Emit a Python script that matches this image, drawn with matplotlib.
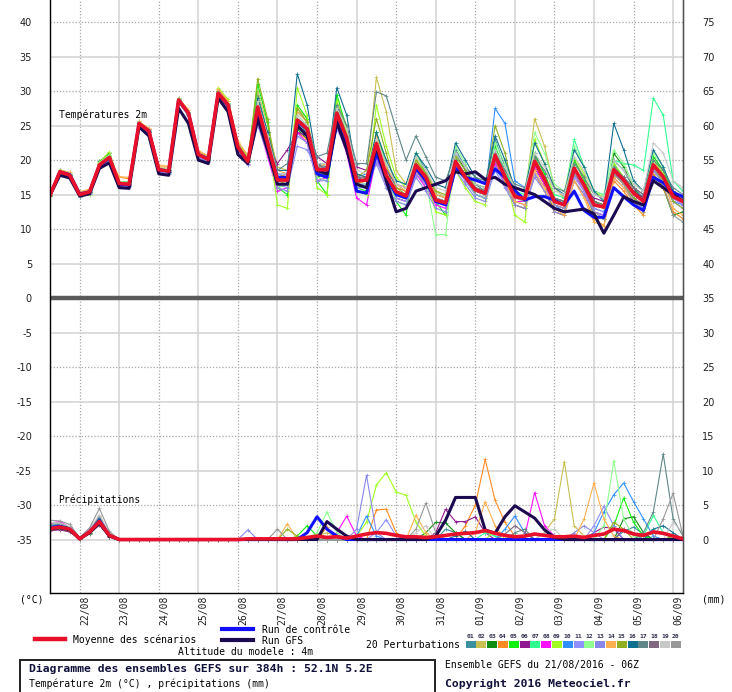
import numpy as np
import matplotlib.pyplot as plt
from matplotlib.lines import Line2D
from matplotlib.patches import Rectangle

plt.rcParams['axes.unicode_minus'] = False

W, H = 732, 692
MONO = 'DejaVu Sans Mono'

# time axis: GEFS 21/08/2016 06Z, every 6 h up to 384 h
hours = np.arange(0, 385, 6)
day_labels = ['22/08', '23/08', '24/08', '25/08', '26/08', '27/08', '28/08', '29/08',
              '30/08', '31/08', '01/09', '02/09', '03/09', '04/09', '05/09', '06/09']
day_hours = [18, 42, 66, 90, 114, 138, 162, 186, 210, 234, 258, 282, 306, 330, 354, 378]

# temperature 2m (degC)
t_mean = [14.9,18.3,17.8,15.0,15.4,19.3,20.4,16.6,16.5, 25.3,24.2,18.6,18.4, 28.7,26.8,20.8,20.1, 29.7,28.0,21.9,19.8, 27.7,22.5,17.1,17.1, 25.8,24.5,18.6,18.6, 26.8,23.2,17.0,17.1, 22.4,17.8,15.4,14.8, 19.3,17.5,14.2,13.8, 19.8,17.5,15.7,15.2, 20.7,17.6,14.7,14.4, 19.8,17.2,14.0,13.5, 18.8,16.4,13.5,13.2, 18.6,17.1,15.2,14.0, 19.3,17.6,14.7,14.0]
t_ctrl = [14.9,18.3,17.9,15.1,15.4,19.2,20.3,16.5,16.4, 25.3,24.2,18.6,18.4, 28.7,26.8,20.8,20.2, 29.6,27.9,21.8,19.8, 26.5,22.0,17.5,17.5, 25.5,24.5,18.0,17.5, 25.5,22.0,15.5,15.2, 21.0,17.5,15.0,14.5, 18.8,17.0,14.0,13.5, 18.8,17.5,17.1,16.6, 18.7,17.5,15.6,14.2, 14.7,14.7,14.2,13.5, 15.5,12.7,11.7,11.7, 16.0,14.7,13.5,12.7, 17.5,16.7,15.3,14.7]
t_gfs = [14.9,17.8,17.4,14.8,15.1,18.8,19.6,16.0,15.9, 24.8,23.5,18.0,17.8, 27.5,25.3,20.0,19.5, 29.0,27.0,20.8,19.5, 26.0,21.5,16.5,16.5, 25.0,23.5,18.5,18.0, 25.5,21.5,16.5,16.0, 22.0,17.0,12.5,13.0, 15.5,16.0,16.5,17.0, 18.3,18.0,18.3,17.2, 17.5,16.5,16.0,15.5, 15.0,14.0,13.0,12.5, 12.7,12.9,12.2,9.4, 12.0,14.7,14.0,13.5, 17.0,16.0,15.0,14.0]

t01 = [14.8,18.5,18.0,15.2,15.5,19.5,20.6,16.8,16.7, 25.5,24.5,18.8,18.6, 28.9,27.0,21.0,20.3, 30.0,28.3,22.2,20.0, 29.5,24.0,18.0,17.5, 27.0,25.5,19.5,19.0, 28.0,24.0,17.5,17.0, 24.0,19.0,16.0,15.5, 21.0,18.5,15.0,14.5, 21.5,19.0,16.5,15.5, 23.0,19.0,15.0,14.0, 21.0,18.0,14.5,14.0, 20.0,17.5,14.0,13.0, 20.0,18.5,16.0,14.5, 20.5,18.5,15.5,14.5]
t02 = [15.0,18.0,17.6,14.8,15.2,19.0,20.0,16.4,16.3, 25.0,24.0,18.4,18.2, 28.5,26.5,20.5,19.8, 29.5,27.8,21.5,19.5, 30.0,25.0,19.0,18.5, 27.5,26.0,19.0,18.0, 28.5,25.0,18.0,17.5, 32.0,27.0,18.5,16.5, 20.0,18.5,15.5,14.5, 20.0,18.0,15.0,14.5, 21.0,18.5,15.5,14.5, 26.0,22.0,16.0,14.5, 20.0,17.5,14.0,13.5, 19.5,17.0,15.0,14.0, 20.0,18.0,15.0,14.5]
t03 = [14.9,18.2,17.9,15.1,15.3,19.8,21.0,16.9,16.8, 25.2,24.0,18.4,18.3, 28.6,26.9,20.6,20.0, 29.6,28.0,22.0,20.2, 26.0,21.0,16.0,16.5, 24.5,23.0,17.5,18.0, 27.5,23.5,16.5,17.5, 20.0,17.0,14.5,14.0, 18.5,17.0,14.0,13.5, 21.0,18.5,16.5,16.0, 19.5,17.0,13.5,13.0, 19.0,16.5,12.5,12.0, 19.0,16.0,12.0,11.5, 21.0,19.0,16.0,14.0, 18.0,16.0,12.0,12.5]
t04 = [14.9,18.4,18.2,15.3,15.6,19.6,20.2,17.5,17.3, 25.4,24.5,19.0,19.0, 28.8,27.2,21.2,20.5, 30.2,28.5,22.5,20.5, 28.0,23.0,17.5,18.0, 24.0,23.0,18.5,19.0, 25.5,22.0,16.5,17.0, 21.0,17.5,16.0,15.5, 18.5,16.5,14.0,13.5, 19.0,17.0,15.5,15.0, 20.0,16.5,13.5,13.0, 18.0,15.5,12.5,12.0, 17.0,15.0,11.5,10.5, 17.0,15.5,13.5,12.0, 18.0,16.0,12.5,11.5]
t05 = [14.8,18.6,18.0,14.7,15.2,19.5,20.8,16.7,16.6, 25.6,24.4,18.7,18.5, 29.0,27.0,20.9,20.2, 30.0,28.2,22.0,20.0, 31.0,25.5,16.0,15.0, 28.0,26.0,17.0,15.0, 29.5,24.5,16.0,15.5, 24.0,19.5,14.0,12.0, 21.0,18.0,14.0,12.0, 19.5,17.0,15.0,14.5, 22.0,18.5,15.0,14.5, 21.0,18.0,14.5,14.0, 20.0,17.0,14.0,13.5, 19.5,17.5,15.5,14.5, 20.5,18.5,15.0,14.0]
t06 = [15.0,18.3,17.7,14.9,15.4,19.2,20.3,16.5,16.4, 25.3,24.1,18.6,18.5, 28.6,26.7,20.9,20.3, 29.8,28.1,22.3,20.5, 26.5,22.0,19.5,21.5, 24.0,23.5,20.5,19.5, 25.0,22.0,19.0,18.5, 21.0,18.5,16.5,16.0, 18.0,16.5,14.5,14.0, 19.0,17.5,16.0,15.5, 20.5,17.5,15.0,14.5, 19.0,16.5,14.0,13.5, 18.0,16.0,14.5,14.0, 18.0,17.0,15.5,14.5, 19.0,17.5,15.5,14.5]
t07 = [14.9,18.2,17.8,15.0,15.4,19.3,20.5,16.6,16.5, 25.2,24.2,18.5,18.4, 28.7,26.8,20.8,20.0, 29.7,27.9,21.8,19.7, 27.0,22.0,16.5,16.5, 25.5,24.0,18.0,18.0, 26.0,22.5,16.5,16.5, 21.5,17.0,15.0,14.5, 19.5,17.5,14.5,14.0, 20.0,18.0,16.0,15.5, 21.5,18.5,15.5,15.0, 20.0,17.5,15.0,14.5, 23.0,19.0,15.5,15.0, 20.0,19.5,19.3,18.5, 29.0,26.5,17.0,15.5]
t08 = [14.9,18.4,17.9,14.9,15.3,19.4,20.3,16.4,16.4, 25.4,24.3,18.5,18.3, 28.8,26.9,20.7,19.9, 29.9,28.1,21.7,19.5, 25.5,20.5,15.5,16.0, 24.0,22.5,17.0,17.5, 25.0,21.0,14.5,13.5, 20.5,16.5,14.5,14.0, 18.0,16.0,13.5,13.0, 19.5,17.0,15.5,15.0, 19.5,16.5,14.0,14.0, 19.0,16.5,13.5,13.0, 18.0,15.5,12.5,12.0, 18.0,16.5,14.5,13.5, 18.5,17.0,14.5,13.5]
t09 = [14.8,18.1,17.6,14.6,15.0,19.6,21.2,16.8,16.7, 25.0,23.9,18.2,18.0, 28.4,26.5,20.5,19.7, 30.5,28.8,22.5,20.5, 29.0,23.5,13.5,13.0, 30.5,26.5,16.0,15.0, 28.5,24.0,15.5,15.0, 28.0,22.0,17.5,16.0, 20.0,17.5,12.5,12.0, 18.5,16.0,14.0,13.5, 20.5,18.0,12.0,11.0, 23.0,19.5,14.5,13.5, 20.5,18.0,15.5,14.5, 19.5,17.5,15.0,14.0, 20.0,18.0,15.0,14.0]
t10 = [14.9,18.3,17.8,15.1,15.5,19.2,20.2,16.7,16.6, 25.3,24.2,18.7,18.5, 28.7,26.8,20.8,20.2, 29.6,27.9,21.9,19.9, 27.0,22.5,18.0,18.0, 25.0,24.0,18.0,18.5, 26.0,23.0,17.5,18.0, 22.0,18.0,15.0,14.5, 19.0,17.0,14.0,13.5, 20.0,17.5,15.5,15.0, 27.5,25.3,17.0,16.0, 20.0,17.5,13.5,12.5, 18.0,16.0,13.0,12.5, 18.5,16.5,14.5,13.0, 19.5,17.0,14.0,13.5]
t11 = [14.9,18.2,17.7,14.8,15.2,19.1,20.1,16.3,16.2, 25.1,24.0,18.3,18.1, 28.5,26.6,20.5,19.8, 29.5,27.7,21.5,19.4, 26.5,21.5,16.5,16.0, 22.0,21.5,18.5,19.0, 24.5,21.5,16.5,16.5, 20.0,16.5,14.5,14.0, 18.0,16.5,14.0,14.0, 19.0,17.0,15.0,14.5, 19.0,16.5,14.0,13.5, 18.0,16.0,13.5,13.0, 17.5,15.5,13.0,12.5, 19.0,17.0,15.0,14.0, 18.5,17.0,14.5,13.5]
t12 = [14.9,18.5,18.1,15.2,15.6,19.7,20.7,16.9,16.8, 25.5,24.4,18.9,18.7, 28.9,27.0,21.0,20.4, 29.9,28.2,22.1,20.1, 28.5,23.0,16.0,16.5, 26.5,25.0,17.5,17.0, 27.0,23.5,16.0,16.5, 23.0,18.0,14.0,13.5, 21.0,17.0,9.2,9.2, 22.0,19.5,16.0,15.0, 22.5,19.5,16.0,15.5, 24.0,21.0,16.5,15.5, 22.0,19.0,15.5,15.0, 21.5,19.5,16.5,15.5, 21.0,19.0,15.5,14.5]
t13 = [15.0,18.0,17.5,14.6,15.1,18.9,19.9,16.2,16.1, 25.0,23.8,18.2,18.0, 28.3,26.4,20.4,19.7, 29.3,27.6,21.4,19.3, 25.0,21.0,16.0,15.5, 23.5,22.5,17.0,17.0, 25.0,22.0,16.0,16.0, 19.5,16.0,14.0,13.5, 17.5,15.5,13.0,12.5, 18.5,16.5,14.5,14.0, 18.5,16.0,13.5,13.0, 17.5,15.5,12.5,12.0, 17.0,15.0,12.5,12.0, 17.5,16.0,14.0,13.0, 18.5,16.5,14.0,13.0]
t14 = [14.9,18.6,18.2,15.4,15.8,19.4,20.3,17.6,17.5, 25.6,24.6,19.3,19.1, 29.0,27.3,21.4,20.6, 30.3,28.6,22.7,20.7, 28.0,24.0,18.5,18.0, 27.0,25.5,19.0,19.5, 26.5,23.5,18.0,17.5, 23.5,19.0,16.5,15.5, 20.0,18.0,15.0,14.5, 19.5,17.5,15.5,15.0, 20.5,17.0,14.0,13.5, 18.5,16.0,13.0,12.0, 17.0,14.5,11.0,10.5, 17.5,16.0,14.0,12.5, 19.5,17.0,13.0,12.0]
t15 = [14.8,18.4,17.9,15.0,15.4,19.4,20.5,16.7,16.6, 25.4,24.3,18.7,18.5, 28.8,26.9,20.9,20.2, 29.8,28.0,21.9,19.8, 31.8,26.0,17.0,16.5, 27.5,25.5,18.0,18.5, 27.0,23.0,17.5,18.5, 26.0,21.0,16.0,15.0, 20.0,18.0,15.5,15.0, 20.5,18.5,16.0,15.5, 25.0,21.0,15.0,14.5, 20.5,17.5,14.0,13.5, 19.0,16.5,13.5,13.0, 18.0,16.5,14.5,13.5, 19.0,17.0,14.0,13.0]
t16 = [15.0,18.3,17.8,15.0,15.3,19.1,20.2,16.4,16.3, 25.2,24.1,18.5,18.3, 28.6,26.7,20.7,20.0, 29.7,27.9,21.8,19.7, 29.0,24.0,18.5,18.5, 32.5,28.0,19.5,18.5, 30.5,26.5,18.0,17.5, 24.0,20.0,17.0,16.5, 21.0,19.0,16.5,16.0, 22.5,20.0,17.5,16.5, 23.5,20.0,16.0,15.5, 22.5,19.5,16.0,15.0, 21.5,19.0,15.5,14.0, 25.3,21.5,17.0,15.5, 21.5,19.0,15.5,14.5]
t17 = [14.9,18.3,17.9,15.1,15.5,19.3,20.4,16.6,16.5, 25.3,24.3,18.7,18.5, 28.7,26.9,20.9,20.2, 29.8,28.1,22.0,19.9, 27.5,23.5,18.5,19.5, 26.0,25.0,20.5,21.0, 28.0,25.0,19.5,19.5, 29.9,29.3,24.5,20.0, 23.5,20.5,17.5,17.0, 21.0,19.0,17.5,17.0, 21.0,18.5,16.5,16.0, 20.5,18.5,16.0,15.5, 19.5,17.5,15.0,14.5, 19.0,17.5,16.0,15.0, 20.0,18.5,16.0,15.0]
t18 = [14.9,18.2,17.8,15.0,15.4,19.2,20.3,16.6,16.5, 25.2,24.1,18.6,18.4, 28.6,26.7,20.8,20.1, 29.6,27.9,21.9,19.8, 27.0,22.5,17.5,17.5, 25.0,24.0,19.0,19.0, 26.0,22.5,17.5,17.5, 21.5,17.5,15.5,15.0, 19.0,17.5,14.5,14.0, 19.5,17.5,16.0,15.5, 20.0,17.5,15.0,14.5, 19.5,17.5,14.5,14.0, 18.5,16.5,14.0,13.5, 18.5,17.5,16.0,15.0, 19.0,17.5,15.0,14.5]
t19 = [14.9,18.4,17.9,15.1,15.5,19.4,20.5,16.7,16.6, 25.4,24.3,18.7,18.6, 28.8,26.9,21.0,20.3, 29.8,28.1,22.1,20.1, 28.5,23.5,18.0,18.0, 26.5,25.0,19.5,19.5, 27.5,24.5,18.5,18.0, 23.0,19.5,16.5,16.0, 20.5,18.5,16.0,15.5, 21.0,19.0,16.5,16.0, 21.5,19.0,16.0,15.5, 21.0,19.0,15.5,15.0, 20.5,18.5,15.0,14.5, 20.0,18.5,16.5,15.5, 22.5,21.0,17.0,16.0]
t20 = [14.9,18.3,17.8,15.0,15.4,19.3,20.4,16.6,16.5, 25.3,24.2,18.6,18.4, 28.7,26.8,20.8,20.1, 29.7,28.0,21.9,19.8, 27.5,22.5,17.0,17.0, 25.5,24.5,18.5,18.5, 26.5,23.5,17.0,17.0, 22.5,18.0,15.5,15.0, 19.5,17.5,14.5,14.0, 19.5,17.5,15.5,15.0, 21.0,18.0,14.5,14.0, 19.5,17.0,13.5,13.0, 18.0,16.0,12.5,11.5, 18.0,16.5,14.0,12.5, 19.0,16.5,12.0,11.0]

# precipitation (mm)
p_mean = [1.6,1.8,1.5,0.1,1.1,2.6,0.6,0,0, 0,0,0,0,0,0,0,0,0,0,0, 0.1,0.1,0.1,0.1,0.1, 0.1,0.3,0.5,0.3,0.4, 0.2,0.5,0.8,1.0,0.9, 0.6,0.4,0.4,0.3,0.4, 0.6,0.8,0.9,1.0,1.3, 0.9,0.6,0.4,0.5,0.8, 0.6,0.4,0.4,0.5,0.3, 0.6,0.8,1.5,1.3,0.8, 0.6,1.1,0.9,0.5,0.1]
p_ctrl = [1.7,1.9,1.5,0.1,1.1,2.7,0.6,0,0, 0,0,0,0,0,0,0,0,0,0,0, 0,0,0,0,0, 0,1.0,3.3,1.5,0.5, 0,0,0,0,0, 0,0,0,0,0, 0,0,0,0,0, 0,0,0,0,0, 0,0,0,0,0, 0,0,0,0,0, 0,0,0,0,0]
p_gfs = [1.5,1.7,1.4,0.1,1.0,2.4,0.5,0,0, 0,0,0,0,0,0,0,0,0,0,0, 0,0,0,0,0, 0,0,0,2.6,1.5, 0.5,0,0,0,0, 0,0,0,0,0.5, 2.8,6.1,6.1,6.1,1.4, 0.9,3.3,4.9,4.0,3.1, 1.4,0.3,0,0,0, 0,0,0,0,0, 0,0,0,0,0]

p01 = [2.0,2.2,1.6,0.2,1.2,2.8,0.7,0,0, 0,0,0,0,0,0,0,0,0,0,0, 0,0,0,0,0, 0,0,0,0,0, 0,0,0,0,0, 0,0,0,0,0, 1.5,1.0,0,0,0, 0,0,0,0,0, 0,0,0,0,0, 0,0,0,1.2,1.8, 0.8,0,0,0,0]
p02 = [1.5,1.6,1.4,0.1,1.0,2.4,0.5,0,0, 0,0,0,0,0,0,0,0,0,0,0, 0,0,0,0,0, 0,0,0.5,1.0,0.4, 0,0,0,0,0, 0,0,0,0,0, 0,0,0,0,0, 0,0,0,0,0, 1.0,3.0,11.3,2.0,0.5, 0,0,0,0,0, 0,0,0,0,0]
p03 = [1.4,1.5,1.2,0.1,0.8,2.2,0.4,0,0, 0,0,0,0,0,0,0,0,0,0,0, 0,0,0,0,0, 0,0,0,0,0, 0,0,0,0,0, 0,0,0,1.0,2.5, 2.4,1.0,0,0,0, 0,0,0,0,0, 0,0,0,0,0, 0,0,0,3.0,3.3, 1.0,0,0,0,0]
p04 = [1.8,1.9,1.7,0.2,1.2,2.9,0.8,0,0, 0,0,0,0,0,0,0,0,0,0,0, 0,0,0,0,0, 0,0,0,1.8,0.3, 0,0,0,4.3,4.4, 1.0,0,0,0,0, 0,0,2.0,5.0,11.6, 5.7,2.5,0.5,0,0, 0,0,0,0,0, 0,0,0,0,0, 0,0,0,0,0]
p05 = [1.7,2.0,1.6,0.1,1.3,3.2,0.9,0,0, 0,0,0,0,0,0,0,0,0,0,0, 0,0,0,0,0, 0.5,2.0,0.5,0,0, 0,0,0,0,0, 0,0,0,0,0, 0,0,0,0,0, 0,0,0,0,0, 0,0,0,0,0, 0,0,2.0,6.0,2.5, 0.5,0,0,0,0]
p06 = [1.3,1.4,1.1,0.1,0.9,2.1,0.4,0,0, 0,0,0,0,0,0,0,0,0,0,0, 0,0,0,0,0, 0,0,0,0,0, 0,0,0,0,0, 0,0,0,0,1.0, 4.4,2.6,2.6,3.3,1.0, 0,0,0,0,0, 0,0,0,0,0, 1.0,1.8,1.6,0,0, 0,0,0,0,0]
p07 = [1.6,1.8,1.5,0.1,1.0,2.7,0.6,0,0, 0,0,0,0,0,0,0,0,0,0,0, 0,0,0,0,0, 0,0,0,0,0, 0,0,0,0,0, 0,0,0,0,0, 0,0,0,0,1.0, 0.5,0,0,0,0, 0,0,0,0,0, 0,0,0,0,0, 0.5,3.5,1.0,0,0]
p08 = [2.4,2.6,1.8,0.2,1.6,3.3,1.0,0,0, 0,0,0,0,0,0,0,0,0,0,0, 0,0,0,0,0, 0,0,0,0,1.0, 3.4,0.5,0,0,0, 0,0,0,0,0, 0,0,0,0,0, 0,0,0,0.5,6.8, 2.0,0.5,0,0,0, 0,0,0,0,0, 0,0,0,0,0]
p09 = [1.5,1.7,1.3,0.1,1.1,2.5,0.6,0,0, 0,0,0,0,0,0,0,0,0,0,0, 0,0,0,0,0, 0,0,0,0,0, 0,0.5,2.5,7.9,9.7, 6.9,6.4,2.5,0.5,0, 0,0,0,0,0, 1.2,0.5,0,0,0, 0,0,0,0,0, 0,0,0,0,0, 0,0,0,0,0]
p10 = [1.6,1.7,1.4,0.1,1.0,2.5,0.5,0,0, 0,0,0,0,0,0,0,0,0,0,0, 0,0,0,0,0, 0,0,0,0,0, 0,0.5,3.4,0.5,0, 0,0,0,0,0, 0,0,0,0,0, 0,1.5,3.4,1.0,0, 0,0,0,0,0, 1.0,4.0,6.5,8.2,5.5, 3.0,0.5,0,0,0]
p11 = [1.8,2.0,1.6,0.2,1.3,2.9,0.7,0,0, 0,0,0,0,0,0,0,0,0,0,0, 0,0,0,0,0, 0,0,0,0,0, 0,0,0,1.0,2.9, 0.5,0,0,0,0, 0,0,0,0,0, 0,0,0,0,0, 0,0,0,0,0, 2.0,4.8,2.0,0,0, 0,0,0,0,0]
p12 = [1.7,1.9,1.4,0.1,1.2,2.6,0.6,0,0, 0,0,0,0,0,0,0,0,0,0,0, 0,0,0,0,0, 0,0,1.0,4.0,1.0, 0,0,0,0,0, 0,0,0,0,0, 0,0,0,0,0, 0,0,0,0,0, 0,0,0,0,0, 0,2.0,11.4,3.0,0.5, 0,0,0,0,0]
p13 = [2.0,2.1,1.6,0.2,1.3,3.0,0.8,0,0, 0,0,0,0,0,0,0,0,0,0,0, 1.4,0,0,0,0, 0,0,0,0,0, 0,1.5,9.3,1.0,0, 0,0,0,0,0, 0,0,0,0,0, 0,0,0,0,0, 0,0,0,1.0,2.0, 1.0,0,0,0,0, 0,0,0,0,0]
p14 = [1.7,1.8,1.5,0.1,1.1,2.7,0.6,0,0, 0,0,0,0,0,0,0,0,0,0,0, 0,0,0,0,2.3, 0,0,0,0,0, 0,0,0,0,0, 0,0,3.5,1.0,0, 0,0,0,1.0,5.5, 2.0,0,0,0,0, 0,0,0,0,3.0, 8.2,3.0,0.5,0,0, 0,0,0,0,0]
p15 = [1.4,1.5,1.3,0.1,1.0,2.3,0.5,0,0, 0,0,0,0,0,0,0,0,0,0,0, 0,0,0,0,1.5, 0.5,0,0,0,0, 0,0,0,0,0, 0,0,0,0,0, 0,0,0,0,0, 0,0,0,0,0, 0,0,0,0,0, 0,0,2.5,1.5,0, 0,0,0,0.5,0]
p16 = [1.9,2.1,1.7,0.2,1.2,3.1,0.8,0,0, 0,0,0,0,0,0,0,0,0,0,0, 0,0,0,0,0, 0,0,0,0,0, 0,0,0,0,0, 0,0,0,0,0, 0,0.5,1.2,0,0, 0,0,0,0,0, 0,0,0,0,0, 0,0,0,0,0, 0,1.5,2.0,1.0,0]
p17 = [2.2,2.3,1.8,0.2,1.4,3.4,0.9,0,0, 0,0,0,0,0,0,0,0,0,0,0, 0,0,0,0,0, 0,0,0,0,0, 0,0,0,0,0, 0,0,0,0,0, 0,0,0,0,0, 0,0,1.0,1.5,0, 0,0,0,0,0, 0,0,0,0,0, 1.0,4.0,12.4,3.0,0.5]
p18 = [1.5,1.6,1.3,0.1,0.9,2.4,0.5,0,0, 0,0,0,0,0,0,0,0,0,0,0, 0,0,0,0,0, 0,0,0,0,0, 0,0,0,0,0, 0,0,0,0,0, 0,0,0,0,0, 0,0.8,2.0,1.0,0, 0,0,0,0,0, 0,0,0,1.5,1.0, 0,0,0,0,0]
p19 = [2.5,2.4,1.9,0.2,1.5,3.6,1.0,0,0, 0,0,0,0,0,0,0,0,0,0,0, 0,0,0,0,0, 0,0,0,0,0, 0,0,0,0,0, 0,0,1.0,2.0,0, 0,0,0,0,0, 0,0,0,0,0, 1.0,1.5,0,0,0, 0,0,0,0,0, 0,0,0,2.5,1.0]
p20 = [2.8,2.7,2.2,0.3,1.7,4.5,1.2,0,0, 0,0,0,0,0,0,0,0,0,0,0, 0,0,0,1.5,0, 0,0,0,0,0, 0,0,0,0,0, 0,0,1.5,5.3,1.0, 0,0,0,0,0, 0,0,0,0,0, 0,0,0,0,0, 0,0,0,0,0, 0,0,3.0,6.7,0.5]

temp_members = [t01, t02, t03, t04, t05, t06, t07, t08, t09, t10,
                t11, t12, t13, t14, t15, t16, t17, t18, t19, t20]
precip_members = [p01, p02, p03, p04, p05, p06, p07, p08, p09, p10,
                  p11, p12, p13, p14, p15, p16, p17, p18, p19, p20]
member_names = ['01', '02', '03', '04', '05', '06', '07', '08', '09', '10',
                '11', '12', '13', '14', '15', '16', '17', '18', '19', '20']
member_colors = ['#3a8fa0', '#c8c050', '#108c10', '#ff8c20', '#10f010',
                 '#901890', '#30ff90', '#ff10ff', '#a0ff20', '#3090ff',
                 '#9090ff', '#90ff90', '#8888e8', '#ffb050', '#90b020',
                 '#107090', '#608888', '#806880', '#c8c8c8', '#989898']
c_mean = '#e8102a'
c_ctrl = '#1010ff'
c_gfs = '#1c0a50'

PRECIP_BASE = -35  # 0 mm sits on the -35 line of the left axis

fig = plt.figure(figsize=(W / 100, H / 100), dpi=100)
ax = fig.add_axes([50 / W, 1 - 593 / H, 633 / W, 593 / H])
ax.set_xlim(0, 384)
ax.set_ylim(-42.75, 43.2)

# grid
for i, h in enumerate(day_hours):
    if i % 2 == 0:
        ax.axvline(h, color='#a8a8a8', lw=0.9, ls=(0, (1, 1.5)), zorder=0)
    else:
        ax.axvline(h, color='#d2d2d2', lw=1.1, zorder=0)
for v in range(-35, 41, 5):
    if v == 0:
        continue
    if v % 10 == 0:
        ax.axhline(v, color='#a8a8a8', lw=0.9, ls=(0, (1, 1.5)), zorder=0)
    else:
        ax.axhline(v, color='#d2d2d2', lw=1.1, zorder=0)
ax.axhline(0, color='#5a5a5a', lw=3.2, zorder=1)

# members
for vals, c in zip(temp_members, member_colors):
    ax.plot(hours, vals, color=c, lw=0.8, marker='+', ms=2.5, mew=0.5, zorder=2)
for vals, c in zip(precip_members, member_colors):
    ax.plot(hours, np.array(vals) + PRECIP_BASE, color=c, lw=0.8,
            marker='+', ms=2.5, mew=0.5, zorder=2)

# control, GFS, mean
ax.plot(hours, t_ctrl, color=c_ctrl, lw=2.2, zorder=3)
ax.plot(hours, np.array(p_ctrl) + PRECIP_BASE, color=c_ctrl, lw=2.2, zorder=3)
ax.plot(hours, t_gfs, color=c_gfs, lw=2.2, zorder=3)
ax.plot(hours, np.array(p_gfs) + PRECIP_BASE, color=c_gfs, lw=2.2, zorder=3)
ax.plot(hours, t_mean, color=c_mean, lw=2.6, zorder=4)
ax.plot(hours, np.array(p_mean) + PRECIP_BASE, color=c_mean, lw=2.6, zorder=4)

# axes styling
ax.set_xticks([])
ax.set_yticks(range(-35, 41, 5))
ax.tick_params(axis='y', length=0, pad=13, labelsize=7, labelcolor='#202020')
for s in ['left', 'bottom', 'right']:
    ax.spines[s].set_color('#303030')
    ax.spines[s].set_linewidth(1.0)
ax.spines['top'].set_visible(False)

ax2 = ax.twinx()
ax2.set_ylim(-42.75 + 35, 43.2 + 35)
ax2.set_yticks(range(0, 76, 5))
ax2.tick_params(axis='y', length=0, pad=14, labelsize=7, labelcolor='#202020')
ax2.spines['top'].set_visible(False)
ax2.spines['right'].set_color('#505050')

for h, lab in zip(day_hours, day_labels):
    ax.text(h + 3.2, -43.1, lab, rotation=90, ha='center', va='top',
            family=MONO, fontsize=7, color='#202020', clip_on=False)

ax.text(5.5, 26.5, 'Températures 2m', family=MONO, fontsize=7, va='center', zorder=5)
ax.text(5, -29.3, 'Précipitations', family=MONO, fontsize=7, va='center', zorder=5)


def fx(x):
    return x / W


def fy(y):
    return 1 - y / H


fig.text(fx(20), fy(600), '(°C)', family=MONO, fontsize=7, va='center')
fig.text(fx(702), fy(600), '(mm)', family=MONO, fontsize=7, va='center')

# legend
fig.add_artist(Line2D([fx(35), fx(65)], [fy(639), fy(639)], color=c_mean, lw=3.2))
fig.text(fx(73), fy(640), 'Moyenne des scénarios', family=MONO, fontsize=7, va='center')
fig.add_artist(Line2D([fx(222), fx(253)], [fy(629), fy(629)], color=c_ctrl, lw=3.0))
fig.text(fx(262), fy(630), 'Run de contrôle', family=MONO, fontsize=7, va='center')
fig.add_artist(Line2D([fx(222), fx(253)], [fy(640), fy(640)], color=c_gfs, lw=3.0))
fig.text(fx(262), fy(641), 'Run GFS', family=MONO, fontsize=7, va='center')
fig.text(fx(178), fy(652), 'Altitude du modele : 4m', family=MONO, fontsize=7, va='center')
fig.text(fx(366), fy(645), '20 Perturbations', family=MONO, fontsize=7, va='center')

for i, (name, c) in enumerate(zip(member_names, member_colors)):
    x0 = 465.5 + i * 10.8
    fig.add_artist(Rectangle((fx(x0), fy(648)), 10 / W, 7 / H, transform=fig.transFigure,
                             facecolor=c, edgecolor='none'))
    fig.text(fx(x0 + 5), fy(637), name, family=MONO, fontsize=4.6, fontweight='bold',
             ha='center', va='center', color='#303050')

fig.add_artist(Rectangle((fx(20), fy(700)), 415 / W, 40 / H, transform=fig.transFigure,
                         facecolor='none', edgecolor='#202020', lw=1.4))
fig.text(fx(29), fy(669), 'Diagramme des ensembles GEFS sur 384h : 52.1N 5.2E',
         family=MONO, fontsize=8.2, fontweight='bold', va='center', color='#10103a')
fig.text(fx(29), fy(684), 'Température 2m (°C) , précipitations (mm)',
         family=MONO, fontsize=7, va='center')
fig.text(fx(445), fy(665), 'Ensemble GEFS du 21/08/2016 - 06Z',
         family=MONO, fontsize=7, va='center')
fig.text(fx(445), fy(684), 'Copyright 2016 Meteociel.fr',
         family=MONO, fontsize=8.2, fontweight='bold', va='center', color='#10103a')

fig.savefig('out.png', dpi=100)
